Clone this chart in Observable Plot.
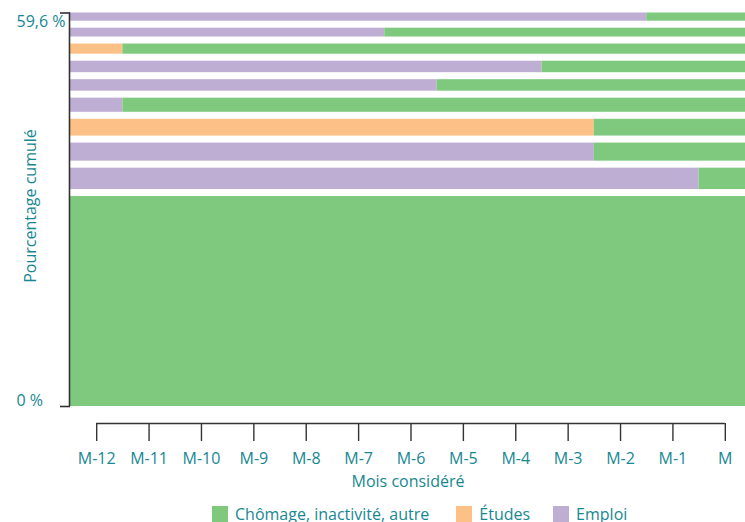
<!DOCTYPE html>
<html>
<head>
<meta charset="utf-8">
<script src="https://cdn.jsdelivr.net/npm/d3@7"></script>
<script src="https://cdn.jsdelivr.net/npm/@observablehq/plot@0.6"></script>
<style>
  html, body { margin: 0; padding: 0; background: #fff; overflow: hidden; }
  #chart svg { overflow: hidden; display: block; }
  .legend { display: flex; align-items: center; margin-left: 212px; margin-top: 9px;
            font-family: "Open Sans", sans-serif; font-size: 16px; color: #178792; line-height: 18px; }
  .legend .item { display: flex; align-items: center; }
  .legend .sw { width: 16px; height: 16px; margin-right: 7px; }
</style>
</head>
<body>
<div id="chart"></div>
<script>
// Month labels (x axis)
const monthLabels = ["M-12","M-11","M-10","M-9","M-8","M-7","M-6","M-5","M-4","M-3","M-2","M-1","M"];

// States and colours
const states = ["Chômage, inactivité, autre", "Études", "Emploi"];
const stateColors = ["#7fc97f", "#fdc086", "#beaed4"];

// Rows, from bottom to top: share of population (%), first state, number of months spent in it
// before switching to "Chômage, inactivité, autre"
const rowShare       = [31.8, 4.3, 3.8, 3.6, 3.2, 2.8, 2.8, 2.6, 2.4, 2.3];
const rowFirstState  = ["Chômage, inactivité, autre", "Emploi", "Emploi", "Études", "Emploi",
                        "Emploi", "Emploi", "Études", "Emploi", "Emploi"];
const rowFirstMonths = [13, 12, 10, 10, 1, 7, 9, 1, 6, 11];

// Y axis ticks
const yTicks = [0, 59.6];
const yTickLabels = ["0 %", "59,6 %"];
const yLabel = "Pourcentage cumulé";
const xLabel = "Mois considéré";

// Build segments
const segments = [];
let cum = 0;
rowShare.forEach((share, r) => {
  const y1 = cum, y2 = cum + share;
  cum = y2;
  const n = rowFirstMonths[r];
  if (n > 0) segments.push({row: r, y1, y2, x1: -0.5, x2: n - 0.5, state: rowFirstState[r]});
  if (n < monthLabels.length) segments.push({row: r, y1, y2, x1: n - 0.5, x2: monthLabels.length - 0.5, state: states[0]});
});
const total = d3.max(yTicks);

const teal = "#178792";
const axisColor = "#333333";

const chart = Plot.plot({
  width: 745,
  height: 496,
  marginLeft: 70,
  marginRight: 0,
  marginTop: 12,
  marginBottom: 73,
  style: { fontFamily: "Open Sans, sans-serif", fontSize: "16px", color: teal, background: "#fff" },
  x: { domain: [-0.5, monthLabels.length - 0.5], range: [70, 751] },
  y: { domain: [0, total], range: [406, 12.5] },
  color: { domain: states, range: stateColors },
  marks: [
    Plot.rectY(segments, { filter: d => d.row === 0, x1: "x1", x2: "x2", y1: "y1", y2: "y2", fill: "state" }),
    Plot.rectY(segments, { filter: d => d.row > 0, x1: "x1", x2: "x2", y1: "y1", y2: "y2", fill: "state", insetBottom: 7 }),
    // y axis line
    Plot.ruleX([-0.5], { y1: 0, y2: total, stroke: axisColor, strokeWidth: 1.6, dx: -1 }),
    Plot.axisY({ ticks: yTicks, tickSize: 10, tickFormat: () => "", stroke: axisColor, strokeWidth: 1.6, label: null }),
    Plot.text([yLabel], { text: d => d, frameAnchor: "left", textAnchor: "middle", rotate: -90, dx: -40, dy: -12,
                          fill: teal, fontSize: 16 }),
    Plot.text([yTicks[1]], { y: d => d, text: () => yTickLabels[1], frameAnchor: "left", textAnchor: "start",
                             lineAnchor: "top", dx: -54, dy: 3, fill: teal, fontSize: 16 }),
    Plot.text([yTicks[0]], { y: d => d, text: () => yTickLabels[0], frameAnchor: "left", textAnchor: "start",
                             lineAnchor: "bottom", dx: -54, dy: -1, fill: teal, fontSize: 16 }),
    // x axis
    Plot.ruleY([0], { x1: 0, x2: monthLabels.length - 1, dy: 17, stroke: axisColor, strokeWidth: 1.6 }),
    Plot.axisX({ ticks: monthLabels.map((_, i) => i), tickFormat: i => monthLabels[i], tickSize: 18, tickPadding: 11,
                 stroke: axisColor, strokeWidth: 1.4, fill: teal, fontSize: 16,
                 label: xLabel, labelAnchor: "center", labelOffset: 63, labelArrow: "none" })
  ]
});
document.getElementById("chart").appendChild(chart);

// Legend
const legend = document.createElement("div");
legend.className = "legend";
const legendGaps = [27, 23, 0];
states.forEach((s, i) => {
  const item = document.createElement("div");
  item.className = "item";
  item.style.marginRight = legendGaps[i] + "px";
  const sw = document.createElement("div");
  sw.className = "sw";
  sw.style.background = stateColors[i];
  const t = document.createElement("span");
  t.textContent = s;
  item.appendChild(sw); item.appendChild(t);
  legend.appendChild(item);
});
document.body.appendChild(legend);
</script>
</body>
</html>
